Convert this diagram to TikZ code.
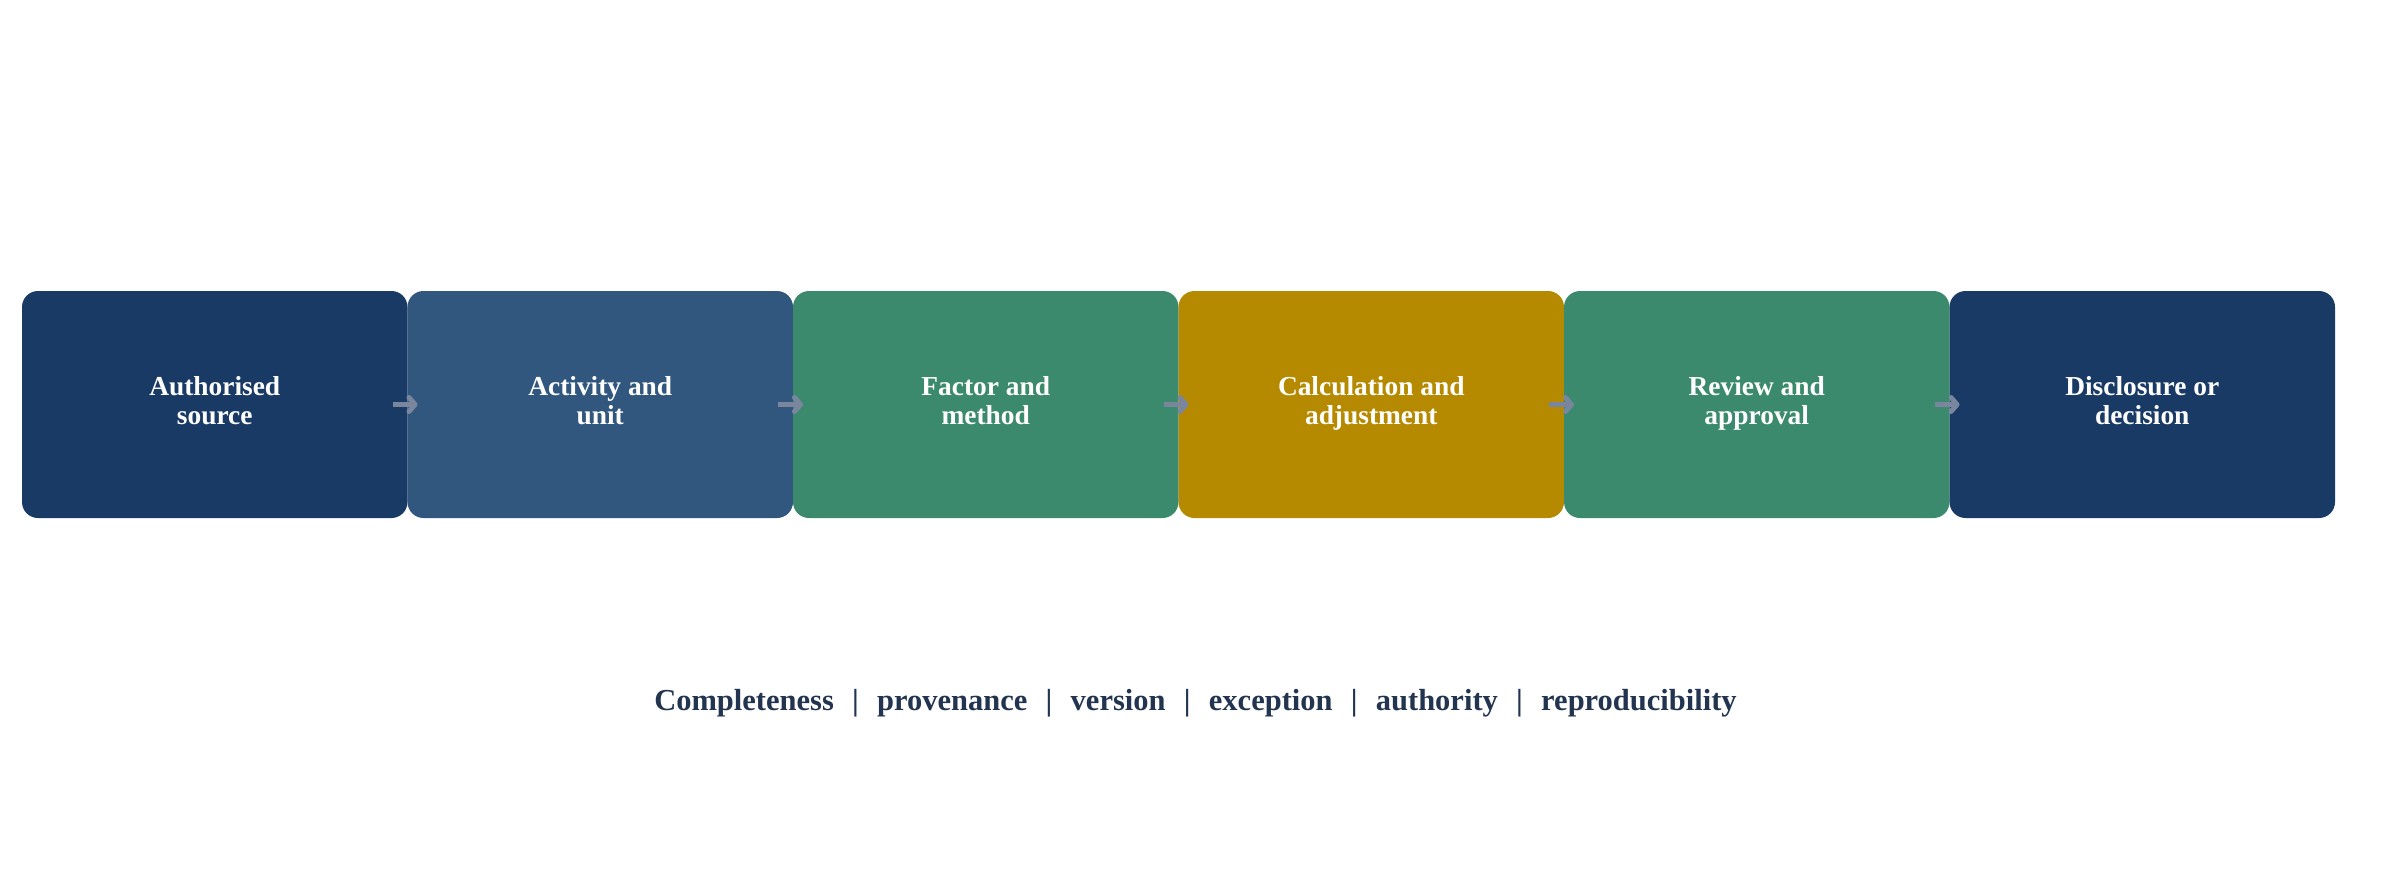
\documentclass[tikz,border=0pt]{standalone}
\usepackage{fontspec}
\setmainfont{Liberation Serif}
\usetikzlibrary{positioning,arrows.meta}

\definecolor{marinho}{HTML}{1A3A66}
\definecolor{azul}{HTML}{31577E}
\definecolor{verde}{HTML}{3C8A6E}
\definecolor{ouro}{HTML}{B58900}
\definecolor{cinza}{HTML}{7A869E}
\definecolor{legenda}{HTML}{22344F}

\newcommand{\linhas}[2]{\strut#1\\\strut#2}

\tikzset{
  etapa/.style={rounded corners=8pt, minimum width=192.75pt, minimum height=113.5pt,
    inner sep=0pt, outer sep=0pt, align=center, text=white,
    font=\bfseries\fontsize{13.7}{14.5}\selectfont},
  seta/.style={-{Straight Barb[length=3pt,width=7pt,round]}, line width=2.5pt, cinza},
}

\begin{document}
\begin{tikzpicture}[x=0.5pt,y=-0.5pt]
    \useasboundingbox (0,0) rectangle (2391,895);

    % Caixas
    \node[etapa, fill=marinho] (fonte) at (214.75,404.5) {\linhas{Authorised}{source}};
    \node[etapa, fill=azul, right=0pt of fonte] (atividade) {\linhas{Activity and}{unit}};
    \node[etapa, fill=verde, right=0pt of atividade] (fator) {\linhas{Factor and}{method}};
    \node[etapa, fill=ouro, right=0pt of fator] (calculo) {\linhas{Calculation and}{adjustment}};
    \node[etapa, fill=verde, right=0pt of calculo] (revisao) {\linhas{Review and}{approval}};
    \node[etapa, fill=marinho, right=0pt of revisao] (decisao) {\linhas{Disclosure or}{decision}};

    % Setas
    \foreach \a/\b in {fonte/atividade, atividade/fator, fator/calculo, calculo/revisao, revisao/decisao}
        \draw[seta] ([xshift=-7.5pt]\a.east) -- ([xshift=5pt]\b.west);

    % Legenda
    \node[anchor=base, text=legenda, font=\bfseries\fontsize{15.25}{18}\selectfont] (criterios) at (1195.5,710)
        {Completeness\hspace{0.6em}|\hspace{0.6em}provenance\hspace{0.6em}|\hspace{0.6em}version\hspace{0.6em}|\hspace{0.6em}exception\hspace{0.6em}|\hspace{0.6em}authority\hspace{0.6em}|\hspace{0.6em}reproducibility};
\end{tikzpicture}
\end{document}
